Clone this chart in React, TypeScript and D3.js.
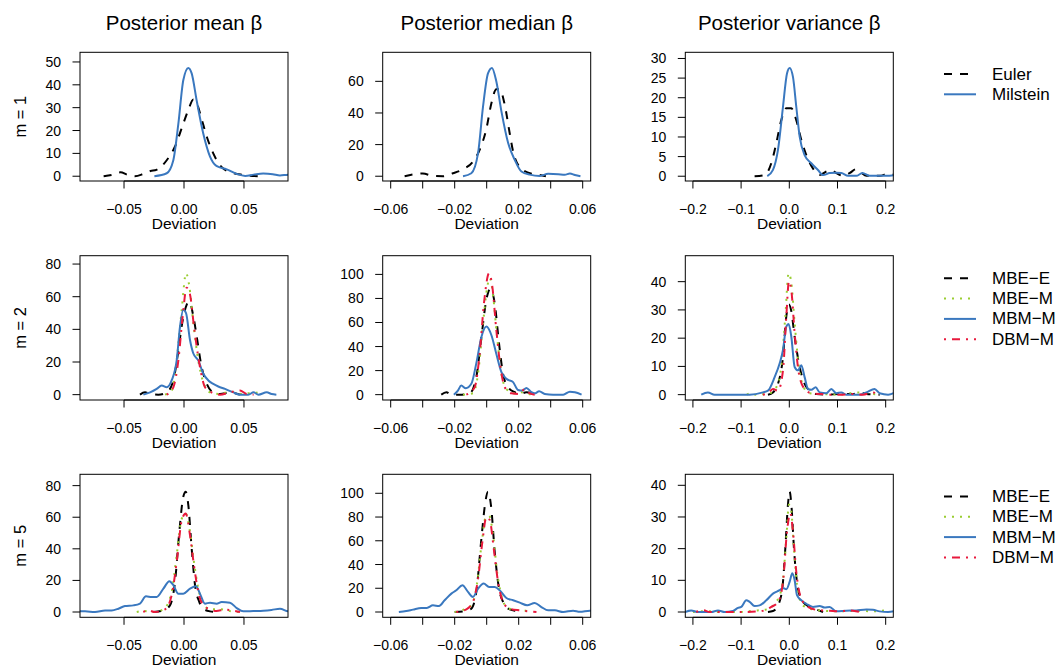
import React from 'react';
import * as d3 from 'd3';

type Pt = [number, number];

// ---------- Data (deviation, density) ----------
// m = 1
const m1MeanEuler: Pt[] = [[-0.067,0],[-0.060,0.6],[-0.053,1.7],[-0.047,0.6],[-0.041,0],[-0.034,1.0],[-0.028,2.3],[-0.023,2.8],[-0.0144,7],[-0.0075,13],[-0.0006,23],[0.0036,29],[0.0078,33.6],[0.0106,32],[0.0147,25],[0.019,17.3],[0.0244,10],[0.031,4.2],[0.040,1.6],[0.049,0.6],[0.063,0]];
const m1MeanMilstein: Pt[] = [[-0.0247,0],[-0.0144,1.3],[-0.0089,7],[-0.0047,23],[-0.0006,42],[0.0036,47.4],[0.0064,45],[0.0106,33],[0.016,18.8],[0.0217,8.6],[0.027,4.5],[0.0356,3],[0.044,1],[0.051,0.15],[0.058,0.7],[0.066,1.2],[0.074,0.9],[0.080,0.3],[0.087,0.7],[0.092,0.5]];
const m1MedianEuler: Pt[] = [[-0.0513,0],[-0.0399,1.7],[-0.0336,0.2],[-0.0273,0],[-0.0211,1.9],[-0.0148,4.4],[-0.0086,9.3],[-0.0044,16.7],[-0.0002,30],[0.0029,46],[0.006,55],[0.0081,55],[0.0113,45],[0.0144,27],[0.0165,15.6],[0.0207,5.7],[0.0259,2.3],[0.032,1],[0.037,0]];
const m1MedianMilstein: Pt[] = [[-0.0148,0],[-0.0096,1.9],[-0.0054,14.6],[-0.0023,44],[0.0008,65],[0.0033,68.5],[0.006,60],[0.0092,41],[0.0134,21],[0.0175,10.4],[0.0217,3],[0.0269,1],[0.0332,0.2],[0.0384,1.5],[0.0447,1.3],[0.0488,1],[0.052,1.7],[0.0551,0.8],[0.0586,0]];
const m1VarEuler: Pt[] = [[-0.072,0],[-0.0512,0.3],[-0.0374,3.3],[-0.027,8.4],[-0.0166,14.3],[-0.0062,17.3],[0.0042,17.3],[0.0145,14.3],[0.025,9.2],[0.0353,5.4],[0.049,2],[0.063,0.3],[0.0768,1.2],[0.087,1.6],[0.0976,0.8],[0.111,0.1],[0.125,0.8],[0.139,1.8],[0.149,0.9],[0.16,0.1],[0.1875,0.1],[0.205,0.6],[0.22,0.3]];
const m1VarMilstein: Pt[] = [[-0.0457,0],[-0.0339,1.6],[-0.0235,6.7],[-0.0131,17.7],[-0.0048,26.2],[0.0007,27.6],[0.0076,25.3],[0.0145,17.7],[0.0215,10.1],[0.0318,5.4],[0.0457,3.3],[0.0595,1.6],[0.07,0.3],[0.0837,0.8],[0.0976,0.9],[0.108,0.8],[0.122,0.1],[0.139,0.1],[0.1516,0.8],[0.167,0.1],[0.201,0.1],[0.22,0.3]];

// m = 2
const m2MeanMbeE: Pt[] = [[-0.0367,0],[-0.0325,1.4],[-0.0283,0.4],[-0.0214,0],[-0.0144,1.4],[-0.0089,8.7],[-0.0047,27],[-0.0019,42],[0.0022,55],[0.0044,57],[0.0078,48],[0.0106,35.6],[0.0147,17],[0.019,6.6],[0.0244,1.4],[0.03,0.4],[0.0383,1.4],[0.0467,0]];
const m2MeanMbeM: Pt[] = [[-0.0158,0],[-0.0103,2.5],[-0.0061,21],[-0.0019,52],[0.0017,74.4],[0.0044,66.6],[0.0078,43.8],[0.0119,21],[0.0161,7.6],[0.0217,1.4],[0.03,0.4],[0.0383,1.9],[0.049,0.4],[0.058,1.4],[0.065,0.4]];
const m2MeanMbmM: Pt[] = [[-0.0339,0],[-0.0283,1.4],[-0.0228,3.5],[-0.0186,5.6],[-0.0144,4.5],[-0.0103,8.7],[-0.0061,21],[-0.0033,41.8],[-0.0006,52],[0.0017,50],[0.005,33.5],[0.0078,25.2],[0.0119,21],[0.0161,12.8],[0.0203,8.7],[0.0244,6.6],[0.0286,5],[0.0342,3.5],[0.0411,1.4],[0.0467,0],[0.0536,0],[0.058,1.4],[0.062,0],[0.069,1.4],[0.073,0.4],[0.077,0]];
const m2MeanDbmM: Pt[] = [[-0.0144,0],[-0.0089,4.5],[-0.0047,21],[-0.0011,48],[0.0022,65.5],[0.005,61.4],[0.0083,41.8],[0.0128,19],[0.0175,4.5],[0.023,1.4],[0.03,0],[0.0383,1.4],[0.0467,2.5],[0.0522,0.4],[0.058,0]];
const m2MedianMbeE: Pt[] = [[-0.0284,0],[-0.0252,2],[-0.0221,0],[-0.0169,0],[-0.0106,1.1],[-0.0065,14.6],[-0.0033,48],[-0.0002,79],[0.0023,88],[0.005,76],[0.0077,42.6],[0.0102,17.4],[0.0134,6.2],[0.0175,2],[0.0207,0.6],[0.0248,2],[0.029,0]];
const m2MedianMbeM: Pt[] = [[-0.0148,0],[-0.0086,1.1],[-0.0054,17.4],[-0.0023,59],[0.0004,90],[0.0019,97],[0.004,82],[0.0065,48],[0.0092,17.4],[0.0123,4.8],[0.0165,1.1],[0.0217,2],[0.0259,0.6],[0.029,0]];
const m2MedianMbmM: Pt[] = [[-0.0205,0],[-0.018,3.4],[-0.0159,7.6],[-0.0131,5.3],[-0.0096,9],[-0.0065,26],[-0.0033,48],[-0.0002,56.6],[0.0029,49.6],[0.006,34],[0.0092,18.8],[0.0123,13.2],[0.0165,10.4],[0.0196,3.9],[0.0223,3.4],[0.0248,5.6],[0.028,2],[0.03,1.1],[0.0328,2.8],[0.0363,0.6],[0.0415,0],[0.0478,0],[0.052,2.5],[0.0551,2],[0.0593,0]];
const m2MedianDbmM: Pt[] = [[-0.0127,0],[-0.0075,6.2],[-0.0044,34],[-0.0017,76],[0.0015,101],[0.0035,90],[0.006,54],[0.0086,23],[0.0113,6.2],[0.0154,1.1],[0.0207,0.6],[0.0238,4.8],[0.0269,1.1],[0.03,0]];
const m2VarMbeE: Pt[] = [[-0.0443,0],[-0.0339,0.8],[-0.0235,3.8],[-0.0131,13.4],[-0.0062,27.7],[-0.0007,31.9],[0.0042,29.5],[0.0111,20.5],[0.0215,9.8],[0.0318,3.8],[0.0422,1.4],[0.056,0.2],[0.0768,0],[0.1045,0.2],[0.132,0.2],[0.146,0.8],[0.16,0.2],[0.1875,0]];
const m2VarMbeM: Pt[] = [[-0.088,0],[-0.079,0.6],[-0.07,0],[-0.0408,0.5],[-0.027,2.6],[-0.0166,9.8],[-0.0083,27.7],[-0.0014,43],[0.0042,39.6],[0.0111,25.3],[0.02,9.8],[0.0298,2.6],[0.0422,0.5],[0.07,0.2],[0.1045,0],[0.139,0.8],[0.1737,0.2],[0.1875,0]];
const m2VarMbmM: Pt[] = [[-0.1827,0],[-0.1689,0.8],[-0.155,0],[-0.0824,0],[-0.0547,0.8],[-0.0443,1.4],[-0.0304,6.2],[-0.0201,11],[-0.0131,15.8],[-0.0062,24.1],[-0.0014,25],[0.0042,20.5],[0.0111,9.8],[0.018,8.6],[0.0249,10.4],[0.0318,6.2],[0.0388,2],[0.0457,1.7],[0.0547,2.6],[0.063,0.8],[0.0768,0.5],[0.0872,2],[0.0976,0.5],[0.108,0.8],[0.118,0],[0.146,0],[0.16,0.8],[0.177,2],[0.1875,0.5],[0.205,0],[0.22,0.8]];
const m2VarDbmM: Pt[] = [[-0.0547,0],[-0.0443,0.5],[-0.0339,2],[-0.0235,1.4],[-0.0131,8.6],[-0.0062,27.7],[-0.0007,40.2],[0.0048,36],[0.0111,21.7],[0.02,7.4],[0.0318,2],[0.0457,0.5],[0.0664,0.2],[0.0837,0],[0.1045,0],[0.132,0.2],[0.153,0],[0.1737,0.8],[0.184,0]];

// m = 5
const m5MeanMbeE: Pt[] = [[-0.0256,0],[-0.0172,1],[-0.0117,4.2],[-0.0075,19],[-0.0039,50.8],[-0.0006,73],[0.0014,76.2],[0.0036,67.7],[0.0064,40.2],[0.0092,17],[0.0128,6.3],[0.0161,2.1],[0.0217,0.4],[0.027,0]];
const m5MeanMbeM: Pt[] = [[-0.0394,0],[-0.0339,0.6],[-0.0256,0],[-0.0172,1.7],[-0.0103,12.7],[-0.0061,36],[-0.0019,59],[0.0014,62.4],[0.005,50.8],[0.0083,31.7],[0.0119,14.8],[0.0161,5.3],[0.0217,1.7],[0.03,1.7],[0.0397,0.4],[0.0467,0]];
const m5MeanMbmM: Pt[] = [[-0.095,0.8],[-0.0867,0.4],[-0.0825,0.4],[-0.0742,0],[-0.0658,1],[-0.0603,1],[-0.0547,2.1],[-0.0492,3.8],[-0.0422,4.2],[-0.0367,5.3],[-0.0317,9.9],[-0.0269,9.5],[-0.0228,9.5],[-0.0172,14.8],[-0.0122,19.5],[-0.0089,17],[-0.0047,11.6],[-0.0006,11.6],[0.005,14.8],[0.01,16.3],[0.0133,11.6],[0.0175,5.3],[0.0217,5.9],[0.0272,5.3],[0.0314,6.3],[0.0383,5.9],[0.0439,2.5],[0.0494,0.4],[0.0578,0.6],[0.0661,0.8],[0.073,1.3],[0.08,2.1],[0.0869,0.4],[0.093,0.2]];
const m5MeanDbmM: Pt[] = [[-0.0339,0],[-0.0297,1],[-0.0242,0],[-0.0158,1.7],[-0.0103,10.6],[-0.0061,31.7],[-0.0019,58],[0.0014,62.4],[0.005,48.7],[0.0083,29.6],[0.0119,12.7],[0.0161,4.2],[0.0217,1.7],[0.027,0.6],[0.0342,1.5],[0.041,0.8],[0.0467,0]];
const m5MedianMbeE: Pt[] = [[-0.02,0],[-0.0138,0.6],[-0.0096,2.8],[-0.0065,17],[-0.0033,62],[-0.0008,93],[0.0008,101.4],[0.0029,87],[0.005,50.7],[0.0077,19.7],[0.0102,8.5],[0.0134,2.8],[0.0175,1.1],[0.0217,0]];
const m5MedianMbeM: Pt[] = [[-0.02,0],[-0.0138,2.3],[-0.0096,5.6],[-0.0065,19.7],[-0.0033,56],[-0.0006,80],[0.0015,81],[0.004,64.8],[0.0065,33.8],[0.0092,14],[0.0123,4.2],[0.0165,2],[0.0227,1.4],[0.028,0]];
const m5MedianMbmM: Pt[] = [[-0.0549,0],[-0.0503,0.8],[-0.0461,2],[-0.0409,3.4],[-0.0374,3.4],[-0.0336,5.6],[-0.0298,5],[-0.0263,9.9],[-0.0221,15.5],[-0.019,18.3],[-0.0152,22.5],[-0.0117,16.9],[-0.0086,12.7],[-0.0054,19.7],[-0.0019,24],[0.0015,21],[0.005,21],[0.0081,18.3],[0.0123,11.8],[0.0165,9.9],[0.0207,7.9],[0.0253,5.6],[0.03,7.6],[0.0342,4.2],[0.0384,1.4],[0.0426,1.4],[0.0478,0],[0.054,1.1],[0.0582,0.2],[0.0645,1.1],[0.07,0.5]];
const m5MedianDbmM: Pt[] = [[-0.019,0],[-0.0127,2.3],[-0.0086,8.5],[-0.0054,28],[-0.0027,59],[-0.0002,80],[0.0019,77.5],[0.0044,53.5],[0.0071,25.4],[0.0102,8.5],[0.0144,2.8],[0.0207,1.4],[0.0259,0.6],[0.0311,0]];
const m5VarMbeE: Pt[] = [[-0.0443,0],[-0.0339,0.3],[-0.0235,2.1],[-0.0145,7.4],[-0.0083,20],[-0.0028,33.9],[0.0007,38],[0.0048,32.8],[0.0097,20],[0.018,7.4],[0.0284,3.2],[0.0422,1.6],[0.056,0.8],[0.07,0]];
const m5VarMbeM: Pt[] = [[-0.2,0],[-0.172,0.3],[-0.145,0],[-0.103,0],[-0.0754,0.4],[-0.0477,0.8],[-0.027,3.2],[-0.0145,8.5],[-0.0062,23.3],[-0.0007,33.9],[0.0042,31.7],[0.0097,20],[0.018,6.3],[0.0284,2.1],[0.0422,1.1],[0.063,0.5],[0.1045,0.2],[0.146,0.4],[0.1737,0.2],[0.2014,0.6]];
const m5VarMbmM: Pt[] = [[-0.2166,0],[-0.2035,0.5],[-0.19,0],[-0.162,0],[-0.148,0.5],[-0.134,0],[-0.117,0.3],[-0.1066,1.3],[-0.0997,1.6],[-0.0893,3.7],[-0.0824,3.2],[-0.072,1.9],[-0.0616,2.1],[-0.0477,3.7],[-0.0339,5.8],[-0.02,6.9],[-0.0131,7.6],[-0.0062,7.2],[0.0007,9.5],[0.0062,12.2],[0.0111,10],[0.0159,5.3],[0.0249,3.7],[0.0353,2.6],[0.0491,1.6],[0.063,1.9],[0.0734,1.4],[0.0837,1.6],[0.0976,0.2],[0.118,0.4],[0.139,0.5],[0.16,0.8],[0.1737,0.7],[0.1875,0.2],[0.205,0],[0.22,0.3]];
const m5VarDbmM: Pt[] = [[-0.193,0],[-0.179,0.6],[-0.165,0],[-0.103,0],[-0.0616,0.2],[-0.0374,1.6],[-0.0235,3.2],[-0.0131,9.5],[-0.0048,25.4],[0.0021,31.2],[0.0076,25.4],[0.0145,12.7],[0.0249,4.2],[0.0388,1.6],[0.056,0.7],[0.0837,0.4],[0.1045,0.2],[0.125,0.5],[0.146,0]];

// ---------- Labels / ticks ----------
const COL_TITLES = ['Posterior mean \u03b2', 'Posterior median \u03b2', 'Posterior variance \u03b2'];
const ROW_LABELS = ['m = 1', 'm = 2', 'm = 5'];
const X_LIMITS = [0.0867, 0.065, 0.2158];
const X_TICKS = [
  [-0.05, 0, 0.05],
  [-0.06, -0.04, -0.02, 0, 0.02, 0.04, 0.06],
  [-0.2, -0.1, 0, 0.1, 0.2],
];
const X_TICK_LABELED = [
  [-0.05, 0, 0.05],
  [-0.06, -0.02, 0.02, 0.06],
  [-0.2, -0.1, 0, 0.1, 0.2],
];
const X_FORMATS = ['.2f', '.2f', '.1f'];
const X_LABEL = 'Deviation';
const LEGEND_ROW1 = ['Euler', 'Milstein'];
const LEGEND_ROWS = ['MBE\u2212E', 'MBE\u2212M', 'MBM\u2212M', 'DBM\u2212M'];

type Key = 'euler' | 'milstein' | 'mbeE' | 'mbeM' | 'mbmM' | 'dbmM';
const STYLES: Record<Key, { color: string; dash: string | undefined }> = {
  euler: { color: '#000000', dash: '8 8' },
  milstein: { color: '#3A78BF', dash: undefined },
  mbeE: { color: '#000000', dash: '8 8' },
  mbeM: { color: '#9ACD32', dash: '2 6' },
  mbmM: { color: '#3A78BF', dash: undefined },
  dbmM: { color: '#E8193C', dash: '2 6 8 6' },
};
const ROW1_KEYS: Key[] = ['euler', 'milstein'];
const ROWN_KEYS: Key[] = ['mbeE', 'mbeM', 'mbmM', 'dbmM'];

const PANELS: { row: number; col: number; series: { key: Key; data: Pt[] }[] }[] = [
  { row: 0, col: 0, series: [{ key: 'euler', data: m1MeanEuler }, { key: 'milstein', data: m1MeanMilstein }] },
  { row: 0, col: 1, series: [{ key: 'euler', data: m1MedianEuler }, { key: 'milstein', data: m1MedianMilstein }] },
  { row: 0, col: 2, series: [{ key: 'euler', data: m1VarEuler }, { key: 'milstein', data: m1VarMilstein }] },
  { row: 1, col: 0, series: [{ key: 'mbeE', data: m2MeanMbeE }, { key: 'mbeM', data: m2MeanMbeM }, { key: 'mbmM', data: m2MeanMbmM }, { key: 'dbmM', data: m2MeanDbmM }] },
  { row: 1, col: 1, series: [{ key: 'mbeE', data: m2MedianMbeE }, { key: 'mbeM', data: m2MedianMbeM }, { key: 'mbmM', data: m2MedianMbmM }, { key: 'dbmM', data: m2MedianDbmM }] },
  { row: 1, col: 2, series: [{ key: 'mbeE', data: m2VarMbeE }, { key: 'mbeM', data: m2VarMbeM }, { key: 'mbmM', data: m2VarMbmM }, { key: 'dbmM', data: m2VarDbmM }] },
  { row: 2, col: 0, series: [{ key: 'mbeE', data: m5MeanMbeE }, { key: 'mbeM', data: m5MeanMbeM }, { key: 'mbmM', data: m5MeanMbmM }, { key: 'dbmM', data: m5MeanDbmM }] },
  { row: 2, col: 1, series: [{ key: 'mbeE', data: m5MedianMbeE }, { key: 'mbeM', data: m5MedianMbeM }, { key: 'mbmM', data: m5MedianMbmM }, { key: 'dbmM', data: m5MedianDbmM }] },
  { row: 2, col: 2, series: [{ key: 'mbeE', data: m5VarMbeE }, { key: 'mbeM', data: m5VarMbeM }, { key: 'mbmM', data: m5VarMbmM }, { key: 'dbmM', data: m5VarDbmM }] },
];

// ---------- Layout ----------
const W = 1057, H = 666;
const COL_LEFT = [80, 382.7, 685.3];
const PANEL_W = 208;
const ROW_BOX = [
  { top: 52.3, bottom: 181 },
  { top: 255.7, bottom: 400 },
  { top: 474.3, bottom: 617.3 },
];
const LEGEND_TOP = [74, 278.3, 496.5];
const LEGEND_STEP = 20.3;
const FONT = '"Liberation Sans", Arial, Helvetica, sans-serif';
const TICK_LEN = 7.5;

function Panel({ row, col, series }: { row: number; col: number; series: { key: Key; data: Pt[] }[] }) {
  const left = COL_LEFT[col];
  const right = left + PANEL_W;
  const { top, bottom } = ROW_BOX[row];
  const x = d3.scaleLinear().domain([-X_LIMITS[col], X_LIMITS[col]]).range([left, right]);
  const peak = d3.max(series, (s) => d3.max(s.data, (d) => d[1]) as number) as number;
  const M = peak * 1.1;
  const y = d3.scaleLinear().domain([-0.04 * M, 1.04 * M]).range([bottom, top]);
  const yTicks = y.ticks(5).filter((t) => t >= 0);
  const line = d3
    .line<Pt>()
    .x((d) => x(d[0]))
    .y((d) => y(d[1]))
    .curve(d3.curveMonotoneX);
  const fmt = d3.format(X_FORMATS[col]);
  const clipId = `clip-${row}-${col}`;
  return (
    <g>
      <defs>
        <clipPath id={clipId}>
          <rect x={left} y={top} width={right - left} height={bottom - top} />
        </clipPath>
      </defs>
      <g clipPath={`url(#${clipId})`}>
        {series.map((s) => (
          <path
            key={s.key}
            d={line(s.data) || ''}
            fill="none"
            stroke={STYLES[s.key].color}
            strokeWidth={2}
            strokeDasharray={STYLES[s.key].dash}
          />
        ))}
      </g>
      <rect x={left} y={top} width={right - left} height={bottom - top} fill="none" stroke="#000" strokeWidth={1} />
      {/* x axis */}
      <line x1={x(X_TICKS[col][0])} x2={x(X_TICKS[col][X_TICKS[col].length - 1])} y1={bottom} y2={bottom} stroke="#000" />
      {X_TICKS[col].map((t) => (
        <line key={`xt${t}`} x1={x(t)} x2={x(t)} y1={bottom} y2={bottom + TICK_LEN} stroke="#000" />
      ))}
      {X_TICK_LABELED[col].map((t) => (
        <text key={`xl${t}`} x={x(t)} y={bottom + 27.5} textAnchor="middle" dominantBaseline="central" fontSize={14} fontFamily={FONT} fill="#000">
          {fmt(t)}
        </text>
      ))}
      <text x={(left + right) / 2} y={bottom + 42.5} textAnchor="middle" dominantBaseline="central" fontSize={15.5} fontFamily={FONT} fill="#000">
        {X_LABEL}
      </text>
      {/* y axis */}
      {yTicks.map((t) => (
        <g key={`yt${t}`}>
          <line x1={left - TICK_LEN} x2={left} y1={y(t)} y2={y(t)} stroke="#000" />
          <text x={left - 19} y={y(t)} textAnchor="end" dominantBaseline="central" fontSize={14} fontFamily={FONT} fill="#000">
            {t}
          </text>
        </g>
      ))}
    </g>
  );
}

function Legend({ row }: { row: number }) {
  const keys = row === 0 ? ROW1_KEYS : ROWN_KEYS;
  const labels = row === 0 ? LEGEND_ROW1 : LEGEND_ROWS;
  return (
    <g>
      {keys.map((k, i) => {
        const yy = LEGEND_TOP[row] + i * LEGEND_STEP;
        return (
          <g key={k}>
            <line x1={944} x2={976} y1={yy} y2={yy} stroke={STYLES[k].color} strokeWidth={2} strokeDasharray={STYLES[k].dash} />
            <text x={992} y={yy} dominantBaseline="central" fontSize={17} fontFamily={FONT} fill="#000">
              {labels[i]}
            </text>
          </g>
        );
      })}
    </g>
  );
}

export default function App() {
  return (
    <div style={{ position: 'absolute', left: 0, top: 0, width: W, height: H, overflow: 'hidden', background: '#fff' }}>
      <svg width={W} height={H} style={{ display: 'block' }}>
        <rect x={0} y={0} width={W} height={H} fill="#fff" />
        {COL_TITLES.map((t, c) => (
          <text key={t} x={COL_LEFT[c] + PANEL_W / 2} y={22} textAnchor="middle" dominantBaseline="central" fontSize={20.5} fontFamily={FONT} fill="#000">
            {t}
          </text>
        ))}
        {ROW_LABELS.map((t, r) => {
          const cy = (ROW_BOX[r].top + ROW_BOX[r].bottom) / 2;
          return (
            <text key={t} x={20} y={cy} transform={`rotate(-90 20 ${cy})`} textAnchor="middle" dominantBaseline="central" fontSize={16.5} fontFamily={FONT} fill="#000">
              {t}
            </text>
          );
        })}
        {PANELS.map((p) => (
          <Panel key={`${p.row}-${p.col}`} row={p.row} col={p.col} series={p.series} />
        ))}
        {[0, 1, 2].map((r) => (
          <Legend key={r} row={r} />
        ))}
      </svg>
    </div>
  );
}
